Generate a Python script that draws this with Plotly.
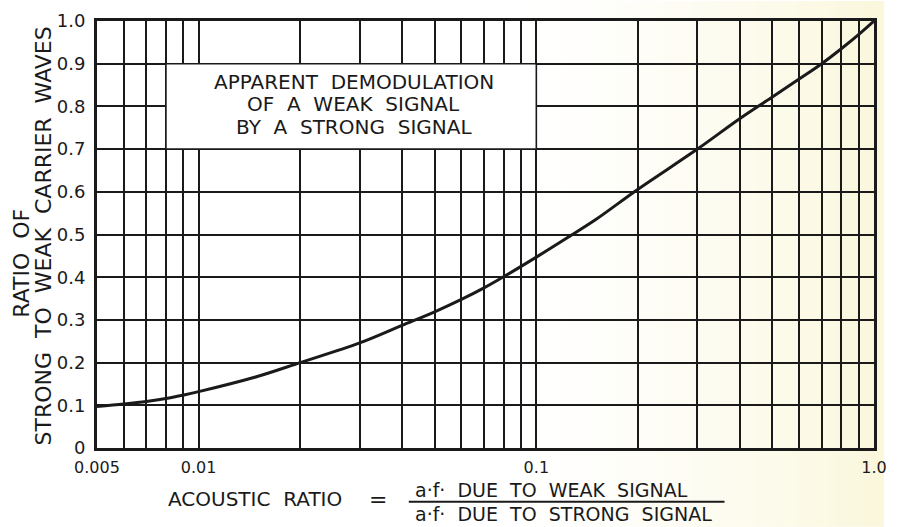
import base64
import struct
import zlib

import plotly.graph_objects as go

# Acoustic ratio (a.f. due to weak signal / a.f. due to strong signal)
acoustic_ratio = [0.005, 0.006, 0.007, 0.008, 0.009, 0.01, 0.015, 0.02, 0.03, 0.04,
                  0.05, 0.06, 0.07, 0.08, 0.1, 0.125, 0.15, 0.2, 0.3, 0.4,
                  0.5, 0.6, 0.7, 0.8, 0.9, 1.0]
# Ratio of strong to weak carrier waves
carrier_ratio = [0.097, 0.103, 0.109, 0.116, 0.124, 0.132, 0.168, 0.2, 0.246, 0.287,
                 0.319, 0.348, 0.375, 0.401, 0.447, 0.495, 0.535, 0.606, 0.70, 0.771,
                 0.822, 0.864, 0.90, 0.935, 0.968, 1.0]

# Log grid lines on the x axis and their labels
x_grid = [0.005, 0.006, 0.007, 0.008, 0.009,
          0.01, 0.02, 0.03, 0.04, 0.05, 0.06, 0.07, 0.08, 0.09,
          0.1, 0.2, 0.3, 0.4, 0.5, 0.6, 0.7, 0.8, 0.9, 1.0]
x_labels = {0.005: "0.005", 0.01: "0.01", 0.1: "0.1", 1.0: "1.0"}
y_ticks = [0, 0.1, 0.2, 0.3, 0.4, 0.5, 0.6, 0.7, 0.8, 0.9, 1.0]
y_labels = ["0", "0.1", "0.2", "0.3", "0.4", "0.5", "0.6", "0.7", "0.8", "0.9", "1.0"]

title_lines = ["APPARENT DEMODULATION", "OF A WEAK SIGNAL", "BY A STRONG SIGNAL"]

W, H = 897, 527
L, R, T, B = 97, 887, 20, 448
FONT = "DejaVu Sans"
INK = "#1a1a1a"
SP = "\u00a0\u00a0"


def px(x):
    return (x - L) / (R - L)


def py(y):
    return (B - y) / (B - T)


def tint_png(n=160):
    """Horizontal cream ramp (transparent on the left) as a 1-px-high PNG data URI."""
    row = bytearray([0])
    for i in range(n):
        t = i / (n - 1)
        a = 0.0 if t < 0.55 else ((t - 0.55) / 0.45) ** 1.6 * 0.55
        row += bytes([247, 240, 192, int(a * 255)])
    raw = zlib.compress(bytes(row))

    def chunk(tag, data):
        return (struct.pack(">I", len(data)) + tag + data
                + struct.pack(">I", zlib.crc32(tag + data) & 0xFFFFFFFF))

    png = (b"\x89PNG\r\n\x1a\n"
           + chunk(b"IHDR", struct.pack(">IIBBBBB", n, 1, 8, 6, 0, 0, 0))
           + chunk(b"IDAT", raw) + chunk(b"IEND", b""))
    return "data:image/png;base64," + base64.b64encode(png).decode()


fig = go.Figure()

fig.add_trace(go.Scatter(
    x=acoustic_ratio, y=carrier_ratio, mode="lines",
    line=dict(color=INK, width=3, shape="spline", smoothing=1.0),
    hoverinfo="skip", showlegend=False,
))

fig.update_xaxes(
    type="log", range=[-2.30103, 0],
    tickvals=x_grid, ticktext=[x_labels.get(v, "") for v in x_grid],
    showgrid=True, gridcolor=INK, gridwidth=1.6,
    showline=True, linecolor=INK, linewidth=3, mirror=True,
    ticks="", zeroline=False,
    tickfont=dict(family=FONT, size=16, color=INK),
    ticklabelstandoff=3,
)
fig.update_yaxes(
    range=[0, 1.0], tickvals=y_ticks, ticktext=y_labels,
    showgrid=True, gridcolor=INK, gridwidth=1.6,
    showline=True, linecolor=INK, linewidth=3, mirror=True,
    ticks="", zeroline=False,
    tickfont=dict(family=FONT, size=18, color=INK),
    ticklabelstandoff=5,
)

# caption panel over the grid
fig.add_shape(type="rect", xref="x", yref="y",
              x0=0.008, x1=0.1, y0=0.7, y1=0.9,
              fillcolor="white", line=dict(color=INK, width=1.6), layer="above")

annotations = []
for i, line in enumerate(title_lines):
    annotations.append(dict(
        text=line.replace(" ", SP), xref="paper", yref="paper",
        x=px(358), y=py(81 + i * 22.5), showarrow=False,
        font=dict(family=FONT, size=20, color=INK), xanchor="center", yanchor="middle",
    ))

# y-axis caption (two rotated lines)
annotations.append(dict(
    text="RATIO" + SP + "OF", xref="paper", yref="paper", x=px(20), y=py(263),
    textangle=-90, showarrow=False, font=dict(family=FONT, size=22, color=INK),
    xanchor="center", yanchor="middle",
))
annotations.append(dict(
    text=SP.join(["STRONG", "TO", "WEAK", "CARRIER", "WAVES"]), xref="paper", yref="paper",
    x=px(43), y=py(235),
    textangle=-90, showarrow=False, font=dict(family=FONT, size=22, color=INK),
    xanchor="center", yanchor="middle",
))

# x-axis caption written as a fraction
annotations.append(dict(
    text="ACOUSTIC" + SP + "RATIO", xref="paper", yref="paper", x=px(167), y=py(499),
    showarrow=False, font=dict(family=FONT, size=20, color=INK),
    xanchor="left", yanchor="middle",
))
annotations.append(dict(
    text="=", xref="paper", yref="paper", x=px(383), y=py(500),
    showarrow=False, font=dict(family=FONT, size=22, color=INK),
    xanchor="center", yanchor="middle",
))
annotations.append(dict(
    text=SP.join(["a·f·", "DUE", "TO", "WEAK", "SIGNAL"]), xref="paper", yref="paper",
    x=px(418), y=py(490), showarrow=False, font=dict(family=FONT, size=19, color=INK),
    xanchor="left", yanchor="middle",
))
annotations.append(dict(
    text=SP.join(["a·f·", "DUE", "TO", "STRONG", "SIGNAL"]), xref="paper", yref="paper",
    x=px(418), y=py(514), showarrow=False, font=dict(family=FONT, size=19, color=INK),
    xanchor="left", yanchor="middle",
))
fig.add_shape(type="line", xref="paper", yref="paper",
              x0=px(414), x1=px(735), y0=py(502), y1=py(502),
              line=dict(color=INK, width=2))

fig.update_layout(
    width=W, height=H,
    margin=dict(l=L, r=W - R, t=T, b=H - B),
    paper_bgcolor="white", plot_bgcolor="rgba(0,0,0,0)",
    annotations=annotations, showlegend=False,
    images=[dict(source=tint_png(), xref="paper", yref="paper",
                 x=px(0), y=py(0), sizex=W / (R - L), sizey=H / (B - T),
                 xanchor="left", yanchor="top", sizing="stretch", layer="below")],
)

fig.write_html("out.html")
